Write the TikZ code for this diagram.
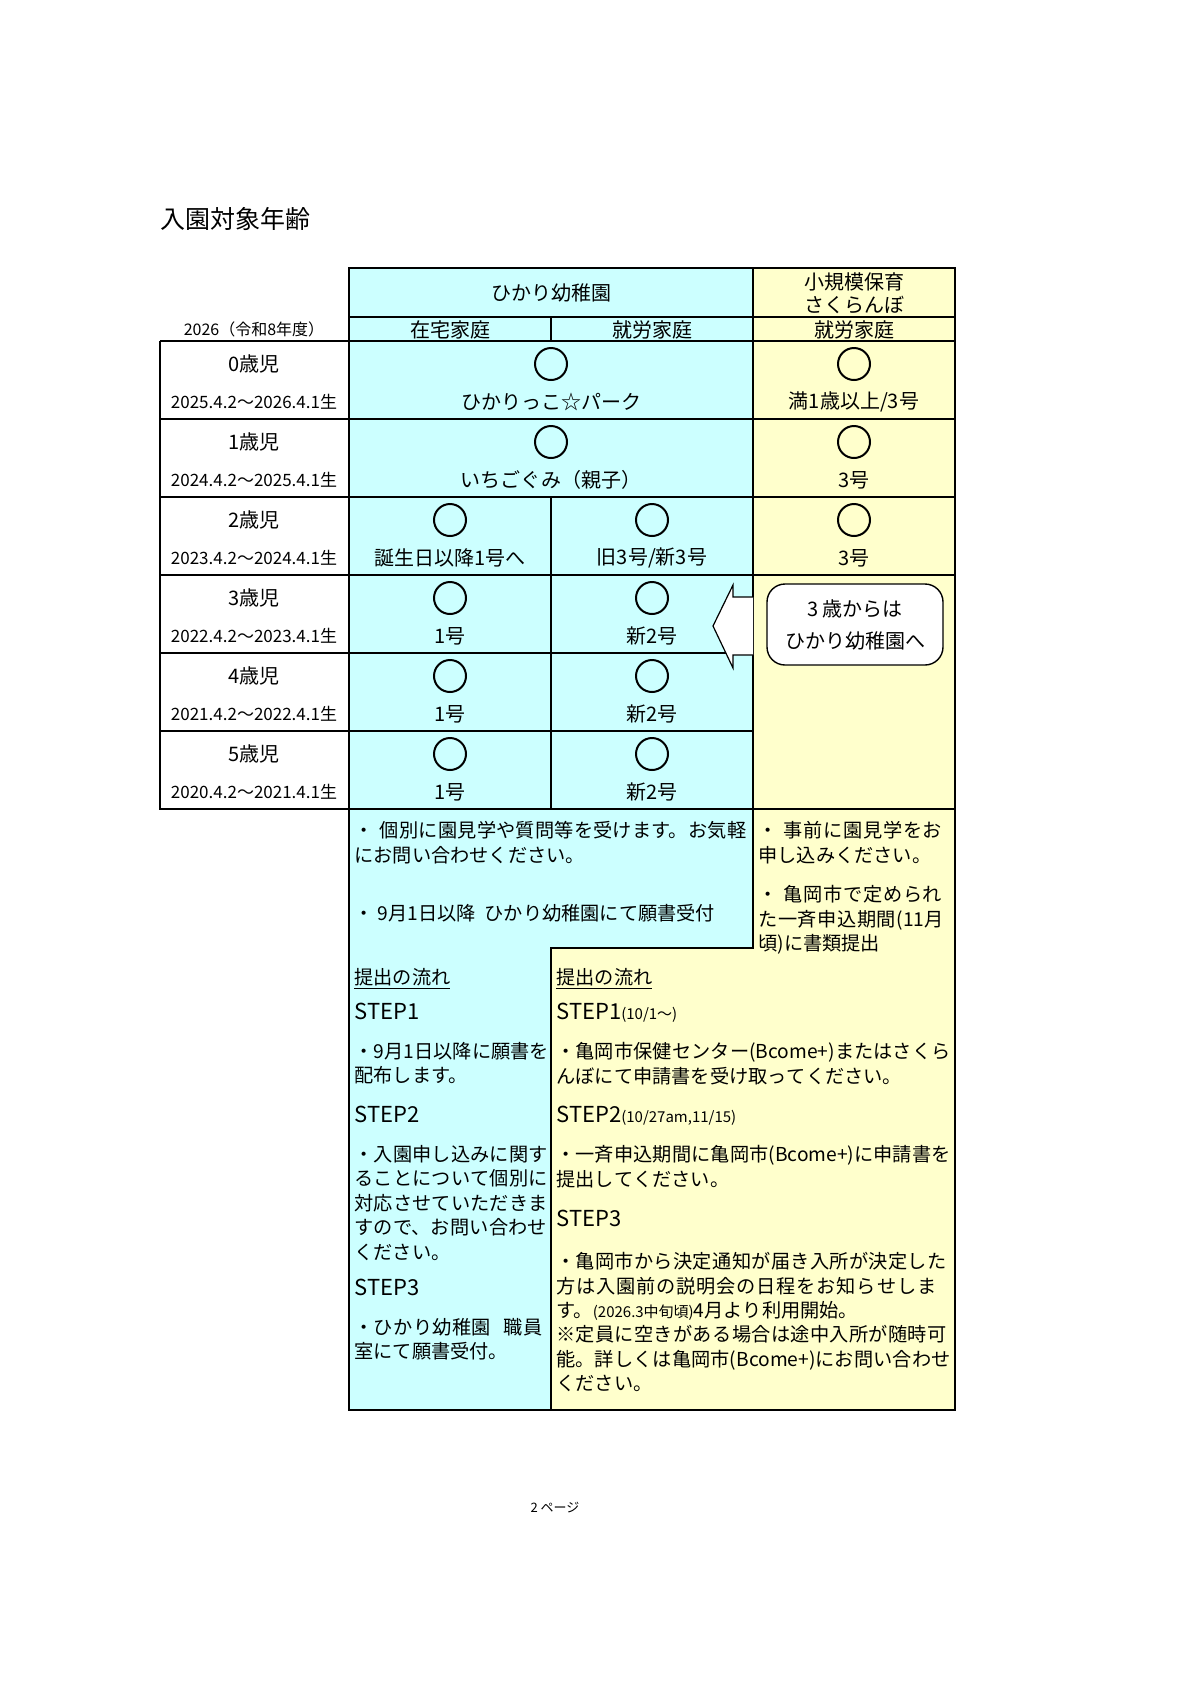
\documentclass[tikz,border=0pt]{standalone}
\usepackage{fontspec}
\setmainfont{Noto Sans CJK JP}
\XeTeXlinebreaklocale "ja"
\XeTeXlinebreakskip=0pt plus 1pt
\definecolor{hcyan}{HTML}{CCFFFF}
\definecolor{hyellow}{HTML}{FFFFCC}
\tikzset{
  grid line/.style={line width=0.7pt},
  mark circ/.style={draw, circle, line width=1pt, minimum size=16pt, inner sep=0pt},
  cell text/.style={font=\fontsize{10}{12}\selectfont, inner sep=0pt},
  note text/.style={font=\fontsize{9.6}{12.2}\selectfont, anchor=north west, align=left, inner sep=0pt},
}
\begin{document}
\begin{tikzpicture}[x=0.5pt, y=-0.5pt]
  \useasboundingbox (0,0) rectangle (1190,1683);
  % backgrounds
  \fill[hcyan] (349,268) rectangle (753,809);
  \fill[hyellow] (753,268) rectangle (955,809);
  \fill[hcyan] (349,809) -- (753,809) -- (753,948) -- (551,948) -- (551,1410) -- (349,1410) -- cycle;
  \fill[hyellow] (753,809) -- (955,809) -- (955,1410) -- (551,1410) -- (551,948) -- (753,948) -- cycle;
  % title
  \node[font=\fontsize{12.5}{14}\selectfont, anchor=west, inner sep=0pt] (title) at (160,219) {入園対象年齢};
  % grid
  \draw[grid line] (349,268) rectangle (955,1410);
  \draw[grid line] (753,268) -- (753,948) -- (551,948) -- (551,1410);
  \draw[grid line] (349,317) -- (955,317);
  \draw[grid line] (160,341) -- (955,341);
  \draw[grid line] (551,317) -- (551,341);
  \draw[grid line] (160,341) -- (160,809) -- (753,809);
  \draw[grid line] (753,809) -- (955,809);
  \foreach \y in {419,497} \draw[grid line] (160,\y) -- (955,\y);
  \draw[grid line] (160,575) -- (955,575);
  \foreach \y in {653,731} \draw[grid line] (160,\y) -- (753,\y);
  \draw[grid line] (551,497) -- (551,809);
  % header
  \node[cell text] (hikari) at (551,293) {ひかり幼稚園};
  \node[cell text, align=center, font=\fontsize{10}{11.5}\selectfont] (sakura) at (854,293) {小規模保育\\さくらんぼ};
  \node[cell text] (zaitaku) at (450,330) {在宅家庭};
  \node[cell text] (shuro) at (652,330) {就労家庭};
  \node[cell text] (shuro2) at (854,330) {就労家庭};
  \node[cell text, font=\fontsize{8}{10}\selectfont] (nendo) at (254,329) {2026（令和8年度）};
  % age rows
  \foreach \a/\d [count=\i from 0] in {0歳児/2025.4.2～2026.4.1生, 1歳児/2024.4.2～2025.4.1生, 2歳児/2023.4.2～2024.4.1生, 3歳児/2022.4.2～2023.4.1生, 4歳児/2021.4.2～2022.4.1生, 5歳児/2020.4.2～2021.4.1生} {
    \node[cell text] (age\i) at (254,341+78*\i+23) {\a};
    \node[cell text, font=\fontsize{8.5}{10}\selectfont] (born\i) at (254,341+78*\i+61) {\d};
  }
  % marks
  \node[mark circ] (c0) at (551,364) {};
  \node[cell text] (t0) at (551,402) {ひかりっこ☆パーク};
  \node[mark circ] (c0s) at (854,364) {};
  \node[cell text] (t0s) at (854,402) {満1歳以上/3号};
  \node[mark circ] (c1) at (551,442) {};
  \node[cell text] (t1) at (551,480) {いちごぐみ（親子）};
  \node[mark circ] (c1s) at (854,442) {};
  \node[cell text] (t1s) at (854,480) {3号};
  \node[mark circ] (c2a) at (450,520) {};
  \node[cell text] (t2a) at (450,558) {誕生日以降1号へ};
  \node[mark circ] (c2b) at (652,520) {};
  \node[cell text] (t2b) at (652,558) {旧3号/新3号};
  \node[mark circ] (c2s) at (854,520) {};
  \node[cell text] (t2s) at (854,558) {3号};
  \foreach \i in {3,4,5} {
    \node[mark circ] (c\i a) at (450,341+78*\i+23) {};
    \node[cell text] (t\i a) at (450,341+78*\i+61) {1号};
    \node[mark circ] (c\i b) at (652,341+78*\i+23) {};
    \node[cell text] (t\i b) at (652,341+78*\i+61) {新2号};
  }
  % arrow and note
  \draw[fill=white, line width=0.6pt] (753,597) -- (733,597) -- (733,585) -- (713,626) -- (733,668) -- (733,655) -- (753,655);
  \node[draw, fill=white, rounded corners=9pt, line width=0.7pt, minimum width=88pt, minimum height=40.5pt, align=center, font=\fontsize{10}{16}\selectfont] (kara3) at (855,624.5) {3 歳からは\\ひかり幼稚園へ};
  % notes
  \node[note text, text width=198pt] (n1) at (354,821) {・~個別に園見学や質問等を受けます。お気軽にお問い合わせください。};
  \node[note text] (n2) at (354,904) {・~9月1日以降\ \ ひかり幼稚園にて願書受付};
  \node[note text, text width=98pt] (n3) at (758,821) {・~事前に園見学をお申し込みください。};
  \node[note text, text width=98pt] (n4) at (758,885) {・~亀岡市で定められた一斉申込期間(11月頃)に書類提出};
  % left flow
  \node[note text] (f1) at (354,968) {\underline{提出の流れ}};
  \node[note text, font=\fontsize{11}{13}\selectfont] (f2) at (354,1003) {STEP1};
  \node[note text, text width=98pt] (f3) at (354,1042) {・9月1日以降に願書を配布します。};
  \node[note text, font=\fontsize{11}{13}\selectfont] (f4) at (354,1106) {STEP2};
  \node[note text, text width=98pt] (f5) at (354,1145) {・入園申し込みに関することについて個別に対応させていただきますので、お問い合わせください。};
  \node[note text, font=\fontsize{11}{13}\selectfont] (f6) at (354,1279) {STEP3};
  \node[note text, text width=98pt] (f7) at (354,1318) {・ひかり幼稚園~~職員室にて願書受付。};
  % right flow
  \node[note text] (g1) at (556,968) {\underline{提出の流れ}};
  \node[note text, font=\fontsize{11}{13}\selectfont] (g2) at (556,1003) {STEP1{\fontsize{7.5}{9}\selectfont (10/1～)}};
  \node[note text, text width=198pt] (g3) at (556,1042) {・亀岡市保健センター(Bcome+)またはさくらんぼにて申請書を受け取ってください。};
  \node[note text, font=\fontsize{11}{13}\selectfont] (g4) at (556,1106) {STEP2{\fontsize{7.5}{9}\selectfont (10/27am,11/15)}};
  \node[note text, text width=198pt] (g5) at (556,1145) {・一斉申込期間に亀岡市(Bcome+)に申請書を提出してください。};
  \node[note text, font=\fontsize{11}{13}\selectfont] (g6) at (556,1210) {STEP3};
  \node[note text, text width=198pt] (g7) at (556,1252) {・亀岡市から決定通知が届き入所が決定した方は入園前の説明会の日程をお知らせします。{\fontsize{7.5}{9}\selectfont (2026.3中旬頃)}4月より利用開始。\\※定員に空きがある場合は途中入所が随時可能。詳しくは亀岡市(Bcome+)にお問い合わせください。};
  % page number
  \node[font=\fontsize{6.5}{8}\selectfont, inner sep=0pt] (page) at (555,1508) {2 ページ};
\end{tikzpicture}
\end{document}
